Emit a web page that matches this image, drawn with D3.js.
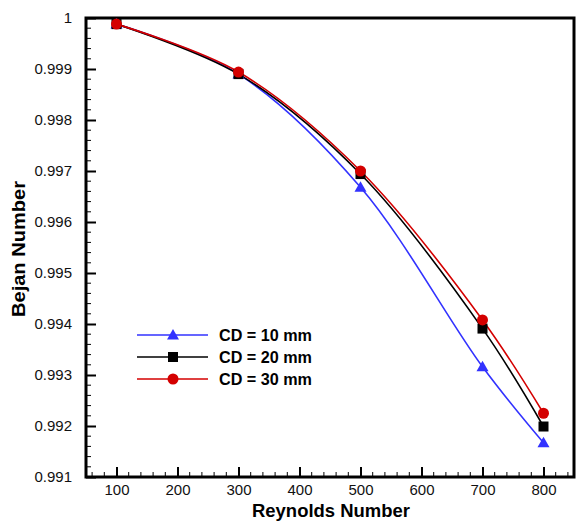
<!DOCTYPE html>
<html>
<head>
<meta charset="utf-8">
<script src="https://cdn.jsdelivr.net/npm/d3@7/dist/d3.min.js"></script>
<style>
  body { margin: 0; background: #fff; }
  svg { display: block; font-family: "Liberation Sans", Arial, sans-serif; }
</style>
</head>
<body>
<svg id="chart" width="581" height="522"></svg>
<script>
// Data
const reynolds = [100, 300, 500, 700, 800];
const cd10 = [0.99988, 0.99890, 0.99668, 0.99316, 0.99167];
const cd20 = [0.99988, 0.99890, 0.99694, 0.99391, 0.99199];
const cd30 = [0.99988, 0.99894, 0.99700, 0.99408, 0.99225];
const xTicks = [100, 200, 300, 400, 500, 600, 700, 800];
const yTicks = [0.991, 0.992, 0.993, 0.994, 0.995, 0.996, 0.997, 0.998, 0.999, 1];

const series = [
    { name: "CD = 10 mm", values: cd10, color: "#3232ff", marker: "triangle" },
    { name: "CD = 20 mm", values: cd20, color: "#000000", marker: "square" },
    { name: "CD = 30 mm", values: cd30, color: "#d40000", marker: "circle" }
];

const svg = d3.select("#chart");
const plotLeft = 86, plotRight = 574, plotTop = 18, plotBottom = 477;

const x = d3.scaleLinear().domain([50, 850]).range([plotLeft, plotRight]);
const y = d3.scaleLinear().domain([0.991, 1]).range([plotBottom, plotTop]);

// Minor ticks
const xMinor = d3.range(60, 850, 20).filter(v => v % 100 !== 0);
const yMinor = d3.range(0, 46).map(i => 0.991 + i * 0.0002).filter((v, i) => i % 5 !== 0 && v < 1);

const g = svg.append("g");

// Bottom axis (ticks inward)
const xAxis = g.append("g")
    .attr("transform", `translate(0,${plotBottom})`)
    .call(d3.axisBottom(x).tickValues(xTicks).tickSize(-10).tickPadding(7).tickFormat(d3.format("d")));
xAxis.select(".domain").remove();
xAxis.selectAll(".tick line").attr("stroke-width", 2);
xAxis.selectAll("text").attr("font-size", 15).attr("fill", "#111");

g.append("g").selectAll("line").data(xMinor).join("line")
    .attr("x1", d => x(d)).attr("x2", d => x(d))
    .attr("y1", plotBottom).attr("y2", plotBottom - 5)
    .attr("stroke", "#000").attr("stroke-width", 1);

// Left axis (ticks inward)
const yAxis = g.append("g")
    .attr("transform", `translate(${plotLeft},0)`)
    .call(d3.axisLeft(y).tickValues(yTicks).tickSize(-10).tickPadding(14)
        .tickFormat(d => d === 1 ? "1" : d3.format(".3f")(d)));
yAxis.select(".domain").remove();
yAxis.selectAll(".tick line").attr("stroke-width", 2);
yAxis.selectAll("text").attr("font-size", 15).attr("fill", "#111");

g.append("g").selectAll("line").data(yMinor).join("line")
    .attr("x1", plotLeft).attr("x2", plotLeft + 5)
    .attr("y1", d => y(d)).attr("y2", d => y(d))
    .attr("stroke", "#000").attr("stroke-width", 1);

// Frame
g.append("rect")
    .attr("x", plotLeft).attr("y", plotTop)
    .attr("width", plotRight - plotLeft).attr("height", plotBottom - plotTop)
    .attr("fill", "none").attr("stroke", "#000").attr("stroke-width", 3);

// Axis titles
svg.append("text")
    .attr("x", 331).attr("y", 517)
    .attr("text-anchor", "middle")
    .attr("font-size", 18).attr("font-weight", "bold")
    .attr("textLength", 158).attr("lengthAdjust", "spacingAndGlyphs")
    .text("Reynolds Number");

svg.append("text")
    .attr("transform", "translate(25,249) rotate(-90)")
    .attr("text-anchor", "middle")
    .attr("font-size", 18).attr("font-weight", "bold")
    .attr("textLength", 136).attr("lengthAdjust", "spacingAndGlyphs")
    .text("Bejan Number");

// Lines
const line = d3.line()
    .x((d, i) => x(reynolds[i]))
    .y(d => y(d))
    .curve(d3.curveCatmullRom.alpha(0.5));

function drawMarker(sel, type, color) {
    if (type === "circle") {
        sel.append("circle").attr("r", 5.5).attr("fill", color);
    } else if (type === "square") {
        sel.append("rect").attr("x", -5).attr("y", -5).attr("width", 10).attr("height", 10).attr("fill", color);
    } else {
        sel.append("path").attr("d", "M0,-6 L6,4.5 L-6,4.5 Z").attr("fill", color);
    }
}

series.forEach(s => {
    g.append("path")
        .datum(s.values)
        .attr("d", line)
        .attr("fill", "none")
        .attr("stroke", s.color)
        .attr("stroke-width", 1.6);
});

series.forEach(s => {
    s.values.forEach((v, i) => {
        const m = g.append("g").attr("transform", `translate(${x(reynolds[i])},${y(v)})`);
        drawMarker(m, s.marker, s.color);
    });
});

// Legend
const legend = svg.append("g").attr("transform", "translate(137,335)");
series.forEach((s, i) => {
    const row = legend.append("g").attr("transform", `translate(0,${i * 22})`);
    row.append("line").attr("x1", 0).attr("x2", 71).attr("y1", 0).attr("y2", 0)
        .attr("stroke", s.color).attr("stroke-width", 1.6);
    const m = row.append("g").attr("transform", "translate(36,0)");
    drawMarker(m, s.marker, s.color);
    row.append("text").attr("x", 82).attr("y", 6)
        .attr("font-size", 16).attr("font-weight", "bold")
        .attr("textLength", 93).attr("lengthAdjust", "spacingAndGlyphs")
        .text(s.name);
});
</script>
</body>
</html>
